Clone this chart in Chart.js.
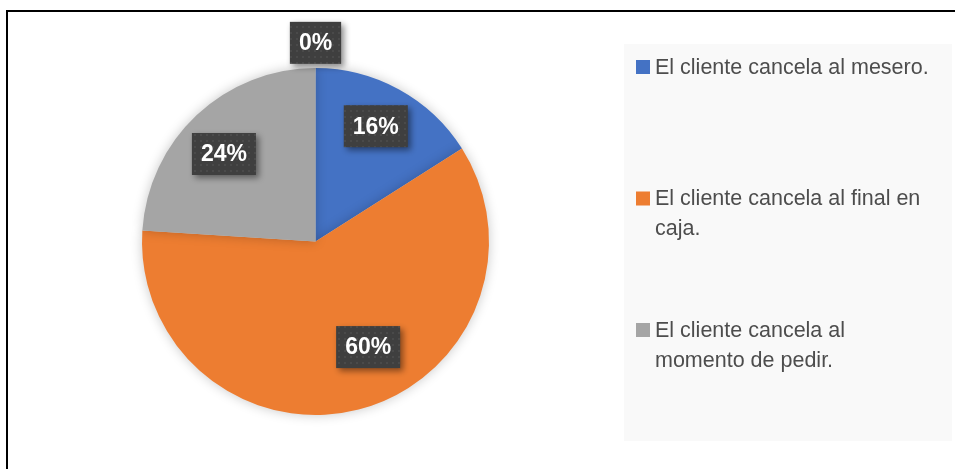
<!DOCTYPE html>
<html>
<head>
<meta charset="utf-8">
<script src="https://cdn.jsdelivr.net/npm/chart.js@4/dist/chart.umd.min.js"></script>
<style>
  html, body { margin: 0; padding: 0; background: #ffffff; }
  #wrap { position: relative; width: 955px; height: 469px; overflow: hidden; }
  #frame { position: absolute; left: 6px; top: 10px; width: 960px; height: 470px;
           border-top: 2px solid #000; border-left: 2px solid #000; pointer-events: none; }
  canvas { position: absolute; left: 0; top: 0; }
</style>
</head>
<body>
<div id="wrap">
  <canvas id="c" width="955" height="469"></canvas>
  <div id="frame"></div>
</div>
<script>
// ---- data ----
const categories = [
  'El cliente cancela al mesero.',
  ['El cliente cancela al final en', 'caja.'],
  ['El cliente cancela al', 'momento de pedir.'],
  ''
];
const values = [16, 60, 24, 0];
const sliceColors = ['#4472C4', '#ED7D31', '#A5A5A5', '#FFC000'];

// ---- label placement styling (angle offset in degrees, radius factor) ----
const labelAngleOffset = [-1.2, -12.1, -3.1, 0];
const labelRadiusFactor = [0.75, 0.68, 0.73, 1.145];

function makePattern(ctx) {
  const p = document.createElement('canvas');
  p.width = 6; p.height = 6;
  const g = p.getContext('2d');
  g.fillStyle = '#3f3f3f';
  g.fillRect(0, 0, 6, 6);
  g.fillStyle = '#4a4a4a';
  g.fillRect(2, 2, 2, 2);
  return ctx.createPattern(p, 'repeat');
}

const pieShadow = {
  id: 'pieShadow',
  beforeDatasetDraw(chart) {
    const ctx = chart.ctx;
    ctx.save();
    ctx.shadowColor = 'rgba(0,0,0,0.22)';
    ctx.shadowBlur = 12;
    ctx.shadowOffsetX = 0;
    ctx.shadowOffsetY = 0;
  },
  afterDatasetDraw(chart) {
    chart.ctx.restore();
  }
};

const legendBox = {
  id: 'legendBox',
  beforeDraw(chart) {
    const ctx = chart.ctx;
    ctx.save();
    ctx.fillStyle = '#f9f9f9';
    ctx.fillRect(624, 44, 328, 397);
    ctx.restore();
  },
  afterDraw(chart) {
    const ctx = chart.ctx;
    const labels = chart.data.labels;
    const colors = chart.data.datasets[0].backgroundColor;
    ctx.save();
    ctx.font = '21.5px "Liberation Sans", Arial, sans-serif';
    ctx.textBaseline = 'middle';
    let shown = 0;
    labels.forEach((lab, i) => {
      const lines = Array.isArray(lab) ? lab : [lab];
      if (!lines.join('').length) return;
      const y0 = 67 + shown * 131.5;
      ctx.fillStyle = colors[i];
      ctx.fillRect(636, y0 - 7, 14, 14);
      ctx.fillStyle = '#4d4d4d';
      lines.forEach((ln, k) => ctx.fillText(ln, 655, y0 + k * 30 + 1));
      shown++;
    });
    ctx.restore();
  }
};

const dataLabels = {
  id: 'dataLabels',
  afterDatasetsDraw(chart) {
    const ctx = chart.ctx;
    const meta = chart.getDatasetMeta(0);
    const data = chart.data.datasets[0].data;
    const total = data.reduce((a, b) => a + b, 0);
    const pattern = makePattern(ctx);
    ctx.save();
    ctx.font = 'bold 23px "Liberation Sans", Arial, sans-serif';
    ctx.textAlign = 'center';
    ctx.textBaseline = 'middle';
    meta.data.forEach((arc, i) => {
      const txt = Math.round(data[i] / total * 100) + '%';
      const mid = (arc.startAngle + arc.endAngle) / 2 + labelAngleOffset[i] * Math.PI / 180;
      const r = arc.outerRadius * labelRadiusFactor[i];
      const cx = arc.x + Math.cos(mid) * r;
      const cy = arc.y + Math.sin(mid) * r;
      const w = ctx.measureText(txt).width + 18;
      const h = 42;
      ctx.save();
      ctx.shadowColor = 'rgba(0,0,0,0.45)';
      ctx.shadowBlur = 6;
      ctx.shadowOffsetX = 3;
      ctx.shadowOffsetY = 3;
      ctx.fillStyle = pattern;
      ctx.fillRect(cx - w / 2, cy - h / 2, w, h);
      ctx.restore();
      ctx.fillStyle = '#ffffff';
      ctx.fillText(txt, cx, cy + 1);
    });
    ctx.restore();
  }
};

new Chart(document.getElementById('c'), {
  type: 'pie',
  data: {
    labels: categories,
    datasets: [{
      data: values,
      backgroundColor: sliceColors,
      borderWidth: 0,
      hoverOffset: 0
    }]
  },
  options: {
    responsive: false,
    animation: false,
    events: [],
    layout: { padding: { left: 142, right: 466, top: 68, bottom: 54 } },
    plugins: {
      legend: { display: false },
      tooltip: { enabled: false }
    }
  },
  plugins: [legendBox, pieShadow, dataLabels]
});
</script>
</body>
</html>
